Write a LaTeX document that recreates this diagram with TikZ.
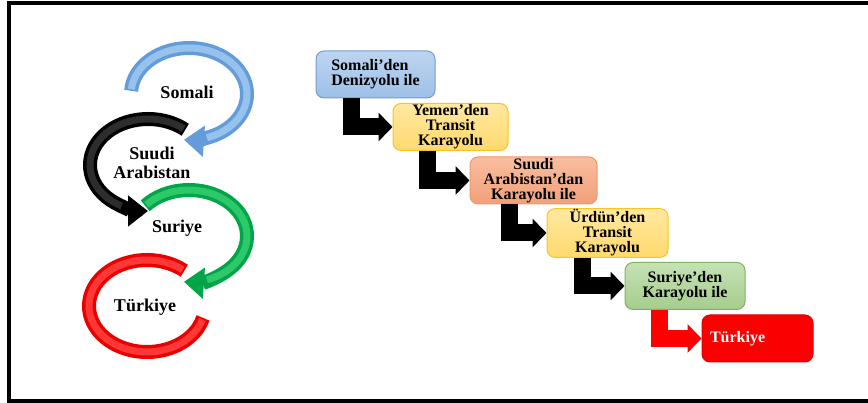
\documentclass[tikz,border=0pt]{standalone}
\usepackage{fontspec}
\setmainfont{Liberation Serif}
\usetikzlibrary{arrows.meta}
\definecolor{ringblue}{RGB}{100,155,218}
\definecolor{ringbluelight}{RGB}{150,195,238}
\definecolor{ringblack}{RGB}{0,0,0}
\definecolor{ringblacklight}{RGB}{45,45,45}
\definecolor{ringgreen}{RGB}{0,165,72}
\definecolor{ringgreenlight}{RGB}{45,200,105}
\definecolor{ringred}{RGB}{235,0,0}
\definecolor{ringredlight}{RGB}{255,55,55}
\definecolor{boxblue}{RGB}{157,192,232}
\definecolor{boxbluetop}{RGB}{190,212,240}
\definecolor{boxblueline}{RGB}{115,155,210}
\definecolor{boxgold}{RGB}{255,217,110}
\definecolor{boxgoldtop}{RGB}{255,232,160}
\definecolor{boxgoldline}{RGB}{250,195,40}
\definecolor{boxsalmon}{RGB}{242,160,120}
\definecolor{boxsalmontop}{RGB}{248,190,160}
\definecolor{boxsalmonline}{RGB}{240,150,105}
\definecolor{boxgreen}{RGB}{165,205,140}
\definecolor{boxgreentop}{RGB}{198,225,180}
\definecolor{boxgreenline}{RGB}{125,180,95}
\definecolor{boxred}{RGB}{250,0,0}
\definecolor{boxredline}{RGB}{225,0,0}

\begin{document}
\begin{tikzpicture}[x=1pt,y=1pt,
    ring/.style={line width=14pt},
    shine/.style={line width=7pt},
    ringtip/.style={-{Triangle[length=20pt,width=30pt]}},
    ringlabel/.style={font=\fontsize{18}{19}\selectfont\bfseries, align=center},
    stepbox/.style={draw, line width=1pt, rounded corners=8pt, minimum width=119pt,
        minimum height=47pt, align=center, inner sep=1pt,
        font=\fontsize{16}{15}\selectfont\bfseries},
    elbow/.style={line width=17pt, -{Triangle[length=14pt,width=28pt]}}]
    \useasboundingbox (0,0) rectangle (868,403);
    % frame
    \draw[line width=4pt] (868,400) -- (9,400) -- (9,2) -- (868,2);

    % rings on the left
    \draw[ring, ringblue, ringtip] (189,309) ++(176:58 and 46) arc[start angle=176, end angle=-95, x radius=58, y radius=46];
    \draw[shine, ringbluelight] (189,309) ++(174:58 and 46) arc[start angle=174, end angle=-72, x radius=58, y radius=46];
    \draw[ring, ringblack, ringtip] (148,238) ++(50:58 and 46) arc[start angle=50, end angle=270, x radius=58, y radius=46];
    \draw[shine, ringblacklight] (148,238) ++(52:58 and 46) arc[start angle=52, end angle=243, x radius=58, y radius=46];
    \draw[ring, ringgreen, ringtip] (189,167) ++(139:58 and 46) arc[start angle=139, end angle=-95, x radius=58, y radius=46];
    \draw[shine, ringgreenlight] (189,167) ++(137:58 and 46) arc[start angle=137, end angle=-72, x radius=58, y radius=46];
    \draw[ring, ringred] (147,97) ++(50:58 and 46) arc[start angle=50, end angle=345, x radius=58, y radius=46];
    \draw[shine, ringredlight] (147,97) ++(52:58 and 46) arc[start angle=52, end angle=343, x radius=58, y radius=46];

    \node[ringlabel] (somalilabel) at (187,311) {Somali};
    \node[ringlabel] (suudilabel) at (152,240) {Suudi\\Arabistan};
    \node[ringlabel] (suriyelabel) at (177,175) {Suriye};
    \node[ringlabel] (turkiyelabel) at (145,96) {Türkiye};

    % steps on the right
    \node[stepbox, draw=boxblueline, top color=boxbluetop, bottom color=boxblue, align=left] (somali) at (375.5,328.5) {Somali’den\\Denizyolu ile};
    \node[stepbox, draw=boxgoldline, top color=boxgoldtop, bottom color=boxgold, minimum width=115pt] (yemen) at (450.5,276) {Yemen’den\\Transit\\Karayolu};
    \node[stepbox, draw=boxsalmonline, top color=boxsalmontop, bottom color=boxsalmon, minimum width=127pt] (suudi) at (533.5,222.5) {Suudi\\Arabistan’dan\\Karayolu ile};
    \node[stepbox, draw=boxgoldline, top color=boxgoldtop, bottom color=boxgold, minimum width=121pt] (urdun) at (607.5,170) {Ürdün’den\\Transit\\Karayolu};
    \node[stepbox, draw=boxgreenline, top color=boxgreentop, bottom color=boxgreen, minimum width=120pt] (suriye) at (685,117) {Suriye’den\\Karayolu ile};
    \node[stepbox, draw=boxredline, fill=boxred, text=white, minimum width=111pt, text width=95pt, inner xsep=8pt, align=left] (turkiye) at (757.5,64.5) {Türkiye};

    \draw[elbow] ([xshift=36pt]somali.south west) |- (yemen.west);
    \draw[elbow] ([xshift=35pt]yemen.south west) |- (suudi.west);
    \draw[elbow] ([xshift=40pt]suudi.south west) |- (urdun.west);
    \draw[elbow] ([xshift=36pt]urdun.south west) |- (suriye.west);
    \draw[elbow, red] ([xshift=35pt]suriye.south west) |- (turkiye.west);
\end{tikzpicture}
\end{document}
